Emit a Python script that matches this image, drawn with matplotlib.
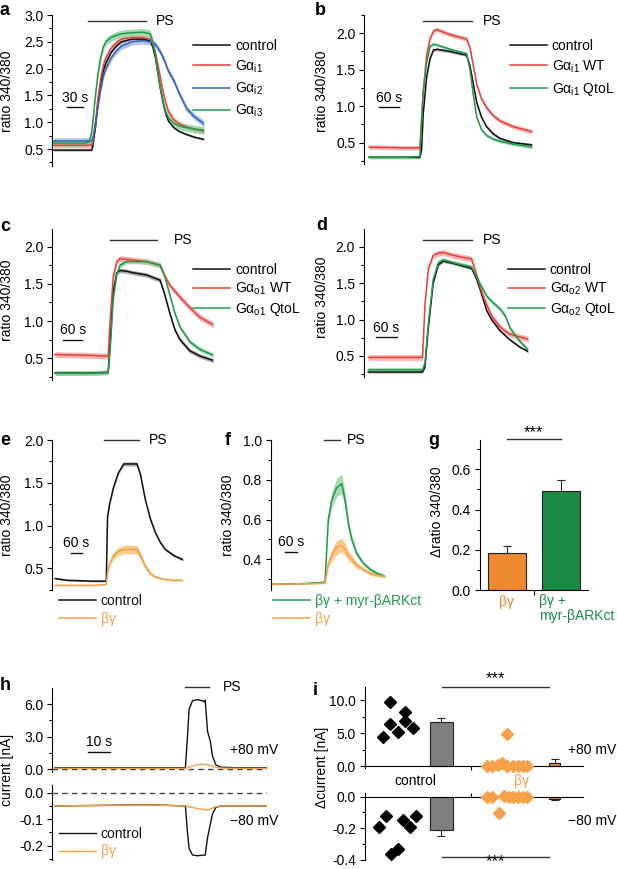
import matplotlib
matplotlib.use('Agg')
import matplotlib.pyplot as plt
from matplotlib.ticker import MultipleLocator, FormatStrFormatter, NullLocator
import numpy as np

plt.rcParams['font.family'] = ['Liberation Sans', 'DejaVu Sans']
plt.rcParams['font.size'] = 10
plt.rcParams['mathtext.fontset'] = 'custom'
plt.rcParams['mathtext.rm'] = 'Liberation Sans'
plt.rcParams['mathtext.it'] = 'Liberation Sans:italic'
plt.rcParams['mathtext.bf'] = 'Liberation Sans:bold'
plt.rcParams['axes.unicode_minus'] = False
plt.rcParams['axes.linewidth'] = 0.8

# ---------------- data ----------------
# panel a (time in s)
ta = [0, 60, 68, 70, 73, 75, 80, 85, 90, 95, 100, 110, 120, 130, 150, 170, 185, 190, 195,
      200, 205, 210, 215, 220, 230, 240, 255, 270, 288]
a_control = [0.48, 0.48, 0.48, 0.48, 0.48, 0.55, 0.9, 1.35, 1.7, 1.95, 2.1, 2.3, 2.42, 2.5, 2.55,
             2.55, 2.52, 2.4, 2.2, 1.9, 1.6, 1.35, 1.15, 1.02, 0.9, 0.83, 0.77, 0.72, 0.68]
a_gi1 = [0.57, 0.57, 0.57, 0.57, 0.57, 0.62, 1.0, 1.45, 1.8, 2.05, 2.2, 2.38, 2.48, 2.55, 2.58,
         2.58, 2.55, 2.45, 2.3, 2.05, 1.8, 1.55, 1.35, 1.2, 1.05, 0.97, 0.91, 0.87, 0.83]
a_gi2 = [0.65, 0.65, 0.65, 0.65, 0.65, 0.68, 0.95, 1.3, 1.6, 1.85, 2.0, 2.2, 2.33, 2.42, 2.5,
         2.52, 2.5, 2.48, 2.45, 2.38, 2.3, 2.2, 2.08, 1.95, 1.78, 1.55, 1.25, 1.1, 0.97]
a_gi3 = [0.61, 0.61, 0.63, 0.7, 0.82, 1.0, 1.5, 1.9, 2.2, 2.4, 2.5, 2.58, 2.62, 2.65, 2.67,
         2.68, 2.65, 2.5, 2.25, 1.9, 1.6, 1.35, 1.18, 1.08, 0.98, 0.93, 0.9, 0.87, 0.85]
a_sem = [0.02, 0.05, 0.06, 0.07]

# panel b
tb = [0, 100, 150, 155, 160, 170, 180, 190, 200, 240, 288, 298, 308, 318, 332, 347, 367, 386, 426, 482]
b_control = [0.3, 0.3, 0.3, 0.4, 0.9, 1.4, 1.65, 1.77, 1.78, 1.75, 1.7, 1.55, 1.3, 1.05, 0.85,
             0.72, 0.62, 0.56, 0.5, 0.47]
b_wt = [0.44, 0.43, 0.43, 0.8, 1.2, 1.7, 1.92, 2.03, 2.05, 1.98, 1.92, 1.8, 1.55, 1.3, 1.1,
        0.98, 0.87, 0.8, 0.72, 0.65]
b_qtol = [0.3, 0.3, 0.31, 0.8, 1.2, 1.6, 1.82, 1.85, 1.84, 1.78, 1.72, 1.5, 1.15, 0.85, 0.68,
          0.6, 0.55, 0.52, 0.48, 0.44]
b_sem = [0.02, 0.03, 0.02]

# panel c
tc = [0, 100, 168, 174, 184, 195, 205, 226, 247, 289, 332, 347, 363, 379, 395, 426, 458, 500]
c_control = [0.3, 0.3, 0.31, 0.7, 1.4, 1.65, 1.68, 1.67, 1.65, 1.62, 1.55, 1.35, 1.1, 0.88,
             0.75, 0.6, 0.53, 0.47]
c_wt = [0.55, 0.54, 0.53, 1.0, 1.6, 1.8, 1.84, 1.83, 1.82, 1.8, 1.75, 1.6, 1.48, 1.4, 1.32,
        1.18, 1.05, 0.95]
c_qtol = [0.3, 0.3, 0.31, 0.6, 1.3, 1.62, 1.75, 1.8, 1.8, 1.8, 1.75, 1.6, 1.35, 1.1, 0.92,
          0.72, 0.62, 0.54]
c_sem = [0.03, 0.04, 0.03]

# panel d
td = [0, 100, 158, 165, 175, 189, 204, 218, 248, 301, 316, 330, 345, 359, 383, 399, 413, 442, 466]
d_control = [0.28, 0.28, 0.28, 0.35, 0.9, 1.5, 1.75, 1.8, 1.77, 1.7, 1.55, 1.35, 1.12, 1.0,
             0.85, 0.78, 0.72, 0.62, 0.56]
d_wt = [0.48, 0.48, 0.48, 1.2, 1.7, 1.88, 1.91, 1.92, 1.88, 1.83, 1.6, 1.38, 1.2, 1.05, 0.9,
        0.84, 0.8, 0.76, 0.73]
d_qtol = [0.31, 0.31, 0.31, 0.4, 0.95, 1.55, 1.78, 1.82, 1.78, 1.72, 1.58, 1.45, 1.32, 1.25,
          1.15, 1.05, 0.88, 0.7, 0.58]
d_sem = [0.015, 0.04, 0.03]

# panel e
te = [0, 64, 200, 278, 285, 296, 318, 345, 373, 445, 464, 491, 518, 545, 573, 600, 645, 696]
e_control = [0.38, 0.36, 0.35, 0.35, 1.1, 1.25, 1.45, 1.62, 1.72, 1.72, 1.6, 1.3, 1.08, 0.92,
             0.8, 0.72, 0.65, 0.6]
e_control_sem = [0.01, 0.01, 0.01, 0.01, 0.02, 0.02, 0.02, 0.02, 0.025, 0.025, 0.02, 0.02, 0.02,
                 0.02, 0.015, 0.015, 0.015, 0.015]
e_bg = [0.3, 0.3, 0.3, 0.31, 0.45, 0.55, 0.65, 0.7, 0.72, 0.72, 0.65, 0.52, 0.44, 0.4, 0.38,
        0.37, 0.36, 0.36]
e_bg_sem = [0.005, 0.005, 0.005, 0.005, 0.02, 0.03, 0.04, 0.045, 0.05, 0.05, 0.04, 0.03, 0.02,
            0.015, 0.01, 0.01, 0.01, 0.01]

# panel f
tf = [0, 150, 269, 286, 304, 329, 355, 372, 389, 407, 432, 467, 501, 535, 578]
f_myr = [0.275, 0.278, 0.285, 0.6, 0.7, 0.76, 0.78, 0.7, 0.58, 0.5, 0.43, 0.38, 0.35, 0.33, 0.315]
f_myr_sem = [0.003, 0.003, 0.003, 0.03, 0.04, 0.045, 0.05, 0.04, 0.03, 0.02, 0.015, 0.01, 0.01,
             0.01, 0.008]
f_bg = [0.275, 0.277, 0.28, 0.38, 0.42, 0.46, 0.47, 0.45, 0.42, 0.4, 0.37, 0.35, 0.33, 0.32, 0.315]
f_bg_sem = [0.003, 0.003, 0.003, 0.02, 0.03, 0.035, 0.035, 0.03, 0.025, 0.02, 0.015, 0.01, 0.01,
            0.008, 0.008]

# panel g
g_labels = ['βγ', 'βγ +\nmyr-βARKct']
g_values = [0.185, 0.49]
g_err = [0.035, 0.055]

# panel h
th = [0, 20, 40, 57.2, 58.1, 58.8, 60.3, 62.5, 64.7, 65.4, 65.9, 66.9, 68.1, 69.1, 70.6, 72.8, 80, 93]
h_control_p80 = [0.15, 0.15, 0.15, 0.15, 3.0, 5.5, 6.3, 6.4, 6.3, 6.2, 6.35, 3.5, 2.6, 1.2, 0.4,
                 0.2, 0.15, 0.15]
h_bg_p80 = [0.1, 0.1, 0.1, 0.1, 0.15, 0.2, 0.3, 0.42, 0.5, 0.48, 0.45, 0.42, 0.35, 0.28, 0.2,
            0.12, 0.1, 0.1]
h_control_m80 = [-0.05, -0.048, -0.045, -0.05, -0.15, -0.21, -0.235, -0.238, -0.236, -0.236,
                 -0.235, -0.17, -0.12, -0.08, -0.055, -0.05, -0.05, -0.05]
h_bg_m80 = [-0.05, -0.048, -0.046, -0.05, -0.051, -0.053, -0.056, -0.06, -0.063, -0.064, -0.065,
            -0.065, -0.062, -0.058, -0.053, -0.05, -0.05, -0.05]

# panel i
i_ctrl_p80_x = [0.84, 1.15, 1.15, 1.50, 1.83, 1.83, 2.18]
i_ctrl_p80_y = [4.44, 9.7, 6.36, 5.15, 8.23, 6.87, 5.7]
i_ctrl_m80_x = [0.64, 0.96, 1.18, 1.50, 1.76, 2.06, 2.34]
i_ctrl_m80_y = [-0.194, -0.122, -0.362, -0.33, -0.147, -0.19, -0.12]
i_bg_p80_x = [5.57, 5.83, 6.08, 6.27, 6.49, 6.52, 6.76, 6.99, 7.22, 7.42]
i_bg_p80_y = [0, 0, 0.1, 0.4, 4.9, 0, 0, 0, 0, 0]
i_bg_m80_x = [5.57, 5.83, 6.12, 6.36, 6.6, 6.79, 7.0, 7.22, 7.4]
i_bg_m80_y = [0, 0, -0.105, 0.002, 0, 0, 0, 0, 0]
i_bar_x = [3.5, 8.7]
i_bar_w = [1.04, 0.5]
i_p80_mean = [6.6, 0.5]
i_p80_err = [0.7, 0.5]
i_m80_mean = [-0.21, -0.012]
i_m80_err = [0.038, 0.008]

# ---------------- styling ----------------
BLACK = '#111111'
RED = '#e8403a'
BLUE = '#3463b4'
GREEN = '#1f9b4a'
ORANGE = '#f5a04a'
BAR_ORANGE = '#f08a30'
BAR_GREEN = '#1b8a44'
GRAY = '#7f7f7f'
BAND = {BLACK: '#9a9a9a', RED: '#f4a3a0', BLUE: '#9bb3e0', GREEN: '#8fd3a2', ORANGE: '#f8c070'}

W, H = 617, 869
fig = plt.figure(figsize=(W / 100, H / 100), dpi=100)


def rect(x0, y0, x1, y1):
    return [x0 / W, 1 - y1 / H, (x1 - x0) / W, (y1 - y0) / H]


def fx(x):
    return x / W


def fy(y):
    return 1 - y / H


def style_left(ax, major, minor, fmt='%.1f'):
    for s in ['top', 'right', 'bottom']:
        ax.spines[s].set_visible(False)
    ax.xaxis.set_major_locator(NullLocator())
    ax.xaxis.set_minor_locator(NullLocator())
    ax.yaxis.set_major_locator(MultipleLocator(major))
    ax.yaxis.set_minor_locator(MultipleLocator(minor))
    ax.yaxis.set_major_formatter(FormatStrFormatter(fmt))
    ax.tick_params(axis='y', which='major', length=3.5, width=0.8, pad=3, labelsize=10)
    ax.tick_params(axis='y', which='minor', length=2, width=0.8)
    ax.patch.set_alpha(0)


def trace_axes(r, xlim, ylim, major, minor):
    ax = fig.add_axes(r)
    ax.set_xlim(*xlim)
    ax.set_ylim(*ylim)
    style_left(ax, major, minor)
    return ax


def trace(ax, t, y, sem, color):
    t = np.asarray(t, float)
    y = np.asarray(y, float)
    s = np.asarray(sem, float) * np.ones_like(y)
    ax.fill_between(t, y - s, y + s, color=BAND[color], lw=0, alpha=0.8)
    line, = ax.plot(t, y, color=color, lw=1.1)
    return line


def legend(ax, handles, labels, x, ytop, colored=False, spacing=0.45):
    kw = dict(loc='upper left', bbox_to_anchor=(fx(x), fy(ytop)), bbox_transform=fig.transFigure,
              frameon=False, handlelength=2.65, handletextpad=0.35, labelspacing=spacing,
              borderpad=0, borderaxespad=0, fontsize=10)
    if colored:
        kw['labelcolor'] = 'linecolor'
    ax.legend(handles, labels, **kw)


def ps_bar(ax, t0, t1, y, tx):
    ax.plot([t0, t1], [y, y], color='#333333', lw=1.0, clip_on=False)
    ax.text(tx, y, 'PS', ha='left', va='center', fontsize=10, clip_on=False)


def scale_bar(ax, t0, t1, y, label, ty):
    ax.plot([t0, t1], [y, y], color='#111111', lw=1.0, clip_on=False)
    ax.text((t0 + t1) / 2, ty, label, ha='center', va='center', fontsize=10)


def ylabel(x, y, s):
    fig.text(fx(x), fy(y), s, rotation=90, ha='center', va='center', fontsize=10)


def letter(x, y, s):
    fig.text(fx(x), fy(y), s, ha='left', va='baseline', fontsize=13, fontweight='bold')


# ---------------- panel a ----------------
ax = trace_axes(rect(52.3, 15, 204, 166), (-2.5, 288), (0.183, 3.0), 0.5, 0.25)
la = [trace(ax, ta, v, s, c) for v, s, c in
      zip([a_control, a_gi1, a_gi2, a_gi3], a_sem, [BLACK, RED, BLUE, GREEN])]
ps_bar(ax, 65, 177, 2.89, 195)
scale_bar(ax, 25.5, 55.5, 1.29, '30 s', 1.46)
legend(ax, la, ['control', 'Gα$_{\\mathrm{i1}}$', 'Gα$_{\\mathrm{i2}}$', 'Gα$_{\\mathrm{i3}}$'],
       193.3, 38.5, spacing=0.42)
ylabel(7.5, 91, 'ratio 340/380')
letter(0, 15, 'a')

# ---------------- panel b ----------------
ax = trace_axes(rect(364.3, 15, 532.3, 164.3), (-14, 482), (0.204, 2.25), 0.5, 0.25)
lb = [trace(ax, tb, v, s, c) for v, s, c in
      zip([b_control, b_wt, b_qtol], b_sem, [BLACK, RED, GREEN])]
ps_bar(ax, 160, 303, 2.174, 335)
scale_bar(ax, 29.5, 89.5, 0.994, '60 s', 1.11)
legend(ax, lb, ['control', 'Gα$_{\\mathrm{i1}}$ WT', 'Gα$_{\\mathrm{i1}}$ QtoL'], 510, 38.5,
       spacing=0.42)
ylabel(322, 91, 'ratio 340/380')
letter(315, 15, 'b')

# ---------------- panel c ----------------
ax = trace_axes(rect(52.3, 229.3, 213.3, 380), (-8.5, 500), (0.208, 2.234), 0.5, 0.25)
lc = [trace(ax, tc, v, s, col) for v, s, col in
      zip([c_control, c_wt, c_qtol], c_sem, [BLACK, RED, GREEN])]
ps_bar(ax, 174, 323, 2.09, 374)
scale_bar(ax, 26, 86, 0.744, '60 s', 0.88)
legend(ax, lc, ['control', 'Gα$_{\\mathrm{o1}}$ WT', 'Gα$_{\\mathrm{o1}}$ QtoL'], 193.3, 262.5,
       spacing=0.3)
ylabel(7.5, 300, 'ratio 340/380')
letter(0, 231, 'c')

# ---------------- panel d ----------------
ax = trace_axes(rect(364, 229.3, 528.3, 376.7), (-12.5, 466), (0.216, 2.238), 0.5, 0.25)
ld = [trace(ax, td, v, s, col) for v, s, col in
      zip([d_control, d_wt, d_qtol], d_sem, [BLACK, RED, GREEN])]
ps_bar(ax, 160, 301, 2.09, 333)
scale_bar(ax, 22, 82.5, 0.756, '60 s', 0.88)
legend(ax, ld, ['control', 'Gα$_{\\mathrm{o2}}$ WT', 'Gα$_{\\mathrm{o2}}$ QtoL'], 508, 262.5,
       spacing=0.3)
ylabel(322, 297, 'ratio 340/380')
letter(316, 230, 'd')

# ---------------- panel e ----------------
ax = trace_axes(rect(52.3, 440, 183, 590), (-16, 696), (0.246, 2.0), 0.5, 0.25)
le1 = trace(ax, te, e_control, e_control_sem, BLACK)
le2 = trace(ax, te, e_bg, e_bg_sem, ORANGE)
ps_bar(ax, 264, 455, 2.0, 509)
scale_bar(ax, 85, 145, 0.683, '60 s', 0.8)
legend(ax, [le1, le2], ['control', 'βγ'], 59, 594, colored=True, spacing=0.3)
ylabel(7, 515, 'ratio 340/380')
letter(0, 445, 'e')

# ---------------- panel f ----------------
ax = trace_axes(rect(271, 440, 385, 590), (-9, 578), (0.246, 1.0), 0.2, 0.1)
lf1 = trace(ax, tf, f_myr, f_myr_sem, GREEN)
lf2 = trace(ax, tf, f_bg, f_bg_sem, ORANGE)
ps_bar(ax, 264, 346, 1.0, 381)
scale_bar(ax, 63, 123, 0.435, '60 s', 0.485)
legend(ax, [lf1, lf2], ['βγ + myr-βARKct', 'βγ'], 273, 594, colored=True, spacing=0.3)
ylabel(228, 515, 'ratio 340/380')
letter(225, 445, 'f')

# ---------------- panel g ----------------
ax = fig.add_axes(rect(480, 440, 588.3, 590))
ax.set_xlim(-0.49, 1.5)
ax.set_ylim(0, 0.746)
style_left(ax, 0.2, 0.1)
ax.spines['bottom'].set_visible(True)
gx = np.arange(len(g_values))
ax.bar(gx, g_values, width=0.7, color=[BAR_ORANGE, BAR_GREEN], edgecolor='#222222', lw=0.8,
       yerr=[np.zeros(len(g_err)), g_err], capsize=3, error_kw=dict(lw=0.8, capthick=0.8,
                                                                     ecolor='#222222'))
ax.set_xticks([0.5])
ax.set_xticklabels([])
ax.tick_params(axis='x', length=3.5, width=0.8)
ax.plot([0, 1], [0.749, 0.749], color='#333333', lw=1.0, clip_on=False)
ax.text(0.5, 0.747, '***', ha='center', va='bottom', fontsize=12)
fig.text(fx(507), fy(602), g_labels[0], ha='center', va='center', color=BAR_ORANGE)
fig.text(fx(539.3), fy(594), g_labels[1], ha='left', va='top', color=BAR_GREEN, linespacing=1.1)
ylabel(437, 512, 'Δratio 340/380')
letter(428, 445, 'g')

# ---------------- panel h ----------------
ax = trace_axes(rect(52.3, 688, 267, 772), (-1.2, 93), (-0.24, 7.47), 3.0, 1.5)
ax.axhline(0, color='#444444', lw=1.0, ls=(0, (4, 3)))
ax.plot(th, h_control_p80, color=BLACK, lw=1.0)
ax.plot(th, h_bg_p80, color=ORANGE, lw=1.0)
ps_bar(ax, 57, 67.6, 7.53, 73.5)
scale_bar(ax, 14.3, 24.3, 1.63, '10 s', 2.5)
fig.text(fx(230), fy(750), '+80 mV', ha='left', va='center')
ax2 = trace_axes(rect(52.3, 785, 267, 860), (-1.2, 93), (-0.254, 0.029), 0.1, 0.05)
ax2.axhline(0, color='#444444', lw=1.0, ls=(0, (4, 3)))
lh1, = ax2.plot(th, h_control_m80, color=BLACK, lw=1.0)
lh2, = ax2.plot(th, h_bg_m80, color=ORANGE, lw=1.0)
fig.text(fx(230), fy(821), '\u221280 mV', ha='left', va='center')
legend(ax2, [lh1, lh2], ['control', 'βγ'], 59, 827, colored=True, spacing=0.25)
ylabel(7, 770, 'current [nA]')
letter(0, 690, 'h')

# ---------------- panel i ----------------
axi = fig.add_axes(rect(365, 686.7, 583.3, 768))
axi.set_xlim(0, 10)
axi.set_ylim(-0.3, 12.02)
style_left(axi, 5.0, 2.5)
axi.spines['bottom'].set_visible(True)
axi.spines['bottom'].set_position(('data', 0))
axi.set_xticks([4.84])
axi.set_xticklabels([])
axi.tick_params(axis='x', length=3, width=0.8)
axi.bar(i_bar_x, i_p80_mean, width=i_bar_w, color=[GRAY, BAR_ORANGE], edgecolor='#222222', lw=0.8,
        yerr=[np.zeros(2), i_p80_err], capsize=3,
        error_kw=dict(lw=0.8, capthick=0.8, ecolor='#222222'), zorder=2)
axi.plot(i_ctrl_p80_x, i_ctrl_p80_y, 'D', color='black', ms=6, clip_on=False, zorder=3)
axi.plot(i_bg_p80_x, i_bg_p80_y, 'D', color=ORANGE, ms=6, clip_on=False, zorder=3)
axi.plot([3.51, 8.44], [12.0, 12.0], color='#333333', lw=1.0, clip_on=False)
fig.text(fx(495), fy(679), '***', ha='center', va='center', fontsize=12)
fig.text(fx(568), fy(750), '+80 mV', ha='left', va='center')

axj = fig.add_axes(rect(365, 792.7, 583.3, 860))
axj.set_xlim(0, 10)
axj.set_ylim(-0.4025, 0.025)
style_left(axj, 0.2, 0.1)
axj.spines['top'].set_visible(True)
axj.spines['top'].set_position(('data', 0))
axj.xaxis.set_ticks_position('top')
axj.set_xticks([4.84])
axj.set_xticklabels([])
axj.tick_params(axis='x', length=3, width=0.8)
axj.bar(i_bar_x, i_m80_mean, width=i_bar_w, color=[GRAY, BAR_ORANGE], edgecolor='#222222', lw=0.8,
        yerr=[i_m80_err, np.zeros(2)], capsize=3,
        error_kw=dict(lw=0.8, capthick=0.8, ecolor='#222222'), zorder=2)
axj.plot(i_ctrl_m80_x, i_ctrl_m80_y, 'D', color='black', ms=6, clip_on=False, zorder=3)
axj.plot(i_bg_m80_x, i_bg_m80_y, 'D', color=ORANGE, ms=6, clip_on=False, zorder=3)
axj.plot([3.51, 8.44], [-0.383, -0.383], color='#333333', lw=1.0, clip_on=False)
fig.text(fx(495), fy(862), '***', ha='center', va='center', fontsize=12)
fig.text(fx(568), fy(821), '\u221280 mV', ha='left', va='center')
fig.text(fx(415), fy(781), 'control', ha='center', va='center')
fig.text(fx(521.7), fy(781), 'βγ', ha='center', va='center', color=ORANGE)
ylabel(322, 767, 'Δcurrent [nA]')
letter(313, 695, 'i')

fig.savefig('out.png', dpi=100)
